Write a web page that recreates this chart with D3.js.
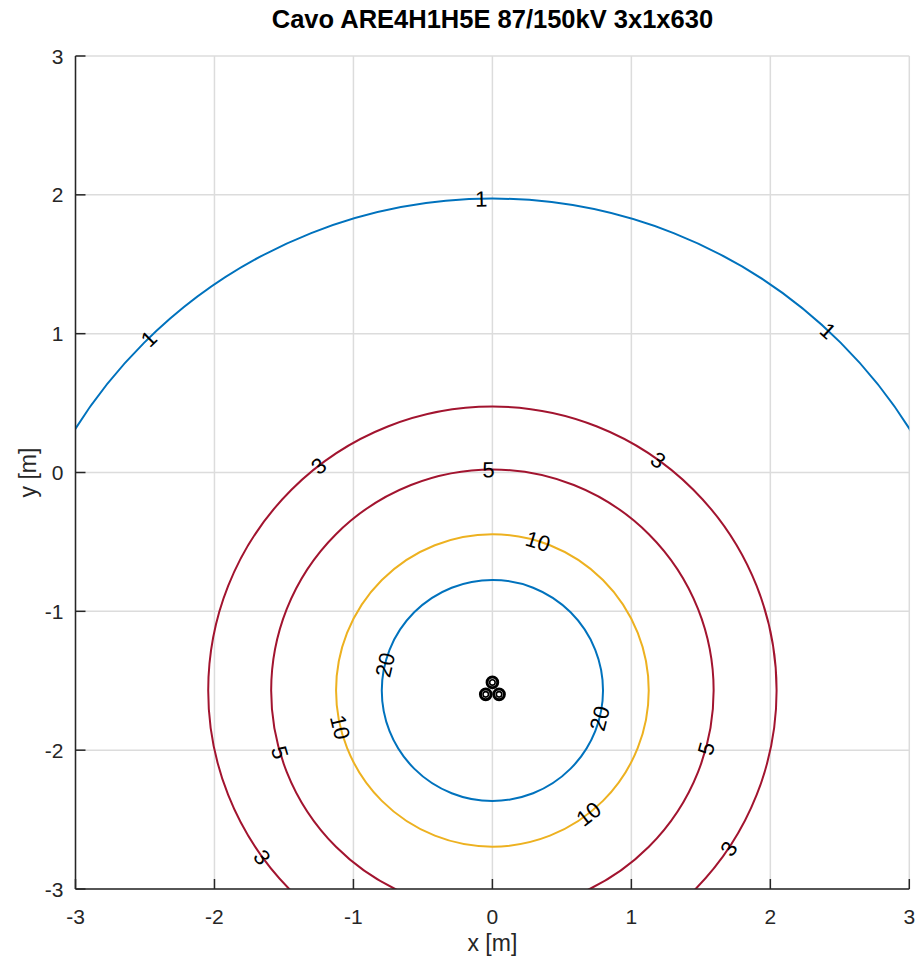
<!DOCTYPE html>
<html>
<head>
<meta charset="utf-8">
<script src="https://cdn.jsdelivr.net/npm/d3@7"></script>
<style>
  body { margin: 0; background: #fff; }
  svg text { font-family: "Liberation Sans", Arial, sans-serif; fill: #262626; }
</style>
</head>
<body>
<svg id="chart" width="918" height="961"></svg>
<script>
// contour levels [uT] and their radii [m] around the trefoil centroid
const levels = [1, 3, 5, 10, 20];
const radii = [3.543, 2.045, 1.592, 1.125, 0.796];
const levelColors = ["#0072BD", "#A2142F", "#A2142F", "#EDB120", "#0072BD"];
const centre = [0, -1.57];

// label positions, angle (deg) around the centre
const labelAngles = [
    [91.3, 134.3, 47],
    [127.7, 54.3, 215.9, -33.8],
    [91, 196.3, -15.2],
    [73, 193.6, -52.1],
    [166.6, -14.6]
];

// cables in trefoil
const cableX = [0, -0.048, 0.048];
const cableY = [-1.512, -1.598, -1.598];
const cableR = 0.049;

const ticks = [-3, -2, -1, 0, 1, 2, 3];

const svg = d3.select("#chart");
const margin = { left: 75.5, right: 918 - 909.3, top: 56, bottom: 961 - 889 };
const W = 918 - margin.left - margin.right;
const H = 961 - margin.top - margin.bottom;

const x = d3.scaleLinear().domain([-3, 3]).range([margin.left, margin.left + W]);
const y = d3.scaleLinear().domain([-3, 3]).range([margin.top + H, margin.top]);

svg.append("defs").append("clipPath").attr("id", "plot")
    .append("rect").attr("x", x(-3)).attr("y", y(3)).attr("width", W).attr("height", H);

// grid
const grid = svg.append("g").attr("stroke", "#dcdcdc").attr("stroke-width", 1.5);
grid.selectAll(".gx").data(ticks).enter().append("line")
    .attr("x1", d => x(d)).attr("x2", d => x(d)).attr("y1", y(-3)).attr("y2", y(3));
grid.selectAll(".gy").data(ticks).enter().append("line")
    .attr("y1", d => y(d)).attr("y2", d => y(d)).attr("x1", x(-3)).attr("x2", x(3));

// contours
const g = svg.append("g").attr("clip-path", "url(#plot)");
g.selectAll("ellipse").data(levels).enter().append("ellipse")
    .attr("cx", x(centre[0])).attr("cy", y(centre[1]))
    .attr("rx", (d, i) => x(radii[i]) - x(0))
    .attr("ry", (d, i) => y(0) - y(radii[i]))
    .attr("fill", "none")
    .attr("stroke", (d, i) => levelColors[i])
    .attr("stroke-width", 2);

// contour labels, rotated along the line
const labels = [];
levels.forEach((lv, i) => {
    labelAngles[i].forEach(a => {
        const t = a * Math.PI / 180;
        let rot = a - 90;
        while (rot > 90) rot -= 180;
        while (rot <= -90) rot += 180;
        labels.push({
            text: lv,
            px: x(centre[0] + radii[i] * Math.cos(t)),
            py: y(centre[1] + radii[i] * Math.sin(t)),
            rot: -rot
        });
    });
});
svg.append("g").selectAll("text").data(labels).enter().append("text")
    .attr("transform", d => `translate(${d.px},${d.py}) rotate(${d.rot})`)
    .attr("text-anchor", "middle").attr("dy", "0.36em")
    .style("font-size", "22px").style("fill", "#000")
    .text(d => d.text);

// cables
const cab = svg.append("g");
cableX.forEach((cx, i) => {
    const px = x(cx), py = y(cableY[i]);
    const rp = x(cableR) - x(0);
    cab.append("circle").attr("cx", px).attr("cy", py).attr("r", rp - 1.5)
        .attr("fill", "#fff").attr("stroke", "#000").attr("stroke-width", 3);
    cab.append("circle").attr("cx", px).attr("cy", py).attr("r", rp * 0.4)
        .attr("fill", "none").attr("stroke", "#000").attr("stroke-width", 1.6);
});

// axes
const axes = svg.append("g").attr("stroke", "#262626").attr("stroke-width", 1.5);
axes.append("line").attr("x1", x(-3)).attr("x2", x(-3)).attr("y1", y(-3)).attr("y2", y(3));
axes.append("line").attr("x1", x(-3)).attr("x2", x(3)).attr("y1", y(-3)).attr("y2", y(-3));
const tl = 10;
axes.selectAll(".tx").data(ticks).enter().append("line")
    .attr("x1", d => x(d)).attr("x2", d => x(d)).attr("y1", y(-3)).attr("y2", y(-3) - tl);
axes.selectAll(".ty").data(ticks).enter().append("line")
    .attr("y1", d => y(d)).attr("y2", d => y(d)).attr("x1", x(-3)).attr("x2", x(-3) + tl);

svg.append("g").selectAll("text").data(ticks).enter().append("text")
    .attr("x", d => x(d)).attr("y", y(-3) + 35)
    .attr("text-anchor", "middle").style("font-size", "21px")
    .text(d => d);
svg.append("g").selectAll("text").data(ticks).enter().append("text")
    .attr("x", x(-3) - 12).attr("y", d => y(d)).attr("dy", "0.36em")
    .attr("text-anchor", "end").style("font-size", "21px")
    .text(d => d);

svg.append("text").attr("x", x(0)).attr("y", 951)
    .attr("text-anchor", "middle").style("font-size", "23px").text("x [m]");
svg.append("text").attr("transform", `translate(${36},${y(0)}) rotate(-90)`)
    .attr("text-anchor", "middle").style("font-size", "23px").text("y [m]");

svg.append("text").attr("x", x(0)).attr("y", 28)
    .attr("text-anchor", "middle").style("font-size", "25.5px").style("font-weight", "bold")
    .style("fill", "#000")
    .text("Cavo ARE4H1H5E 87/150kV 3x1x630");
</script>
</body>
</html>
